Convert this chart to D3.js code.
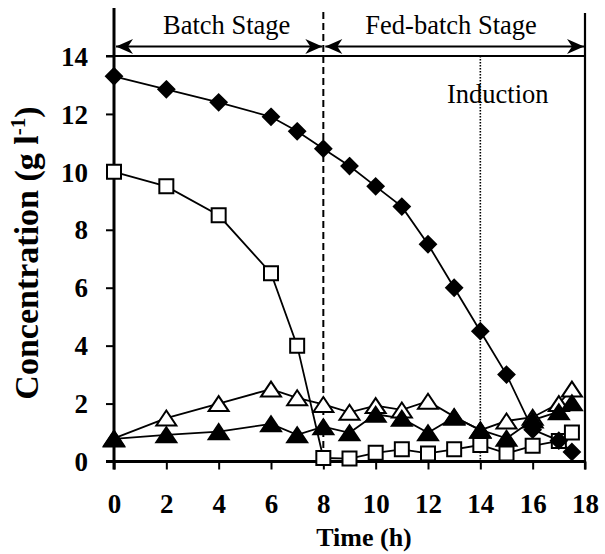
<!DOCTYPE html>
<html><head><meta charset="utf-8">
<script src="https://cdn.jsdelivr.net/npm/d3@7"></script>
<style>html,body{margin:0;padding:0;background:#fff;}svg{display:block;}</style>
</head><body><svg id="c" width="605" height="554"></svg>
<script>
const time = [0,2,4,6,7,8,9,10,11,12,13,14,15,16,17,17.5];
const diamonds = [13.3,12.85,12.4,11.9,11.4,10.8,10.2,9.5,8.8,7.5,6.0,4.5,3.0,1.1,0.72,0.33];
const squares = [10.0,9.5,8.5,6.5,4.0,0.12,0.1,0.3,0.42,0.28,0.42,0.57,0.28,0.54,0.71,1.0];
const openTri = [0.8,1.5,2.0,2.5,2.2,1.97,1.7,1.93,1.78,2.08,1.55,1.08,1.4,1.53,2.0,2.5];
const filledTri = [0.78,0.92,1.03,1.3,0.92,1.2,0.99,1.63,1.49,0.99,1.53,1.09,0.8,1.43,1.72,2.03];
const xTicks = [0,2,4,6,8,10,12,14,16,18];
const yTicks = [0,2,4,6,8,10,12,14];
const stages = [{label:"Batch Stage", from:0, to:8},{label:"Fed-batch Stage", from:8, to:18}];
const batchEnd = 8, induction = 14;

const svg = d3.select("#c");
const x = d3.scaleLinear().domain([0,18]).range([114,585]);
const y = d3.scaleLinear().domain([0,14]).range([461.5,56]);
const serif = "'Liberation Serif','Times New Roman',serif";

// axes
const gx = svg.append("g").attr("transform",`translate(0,${y(0)})`)
  .call(d3.axisBottom(x).tickValues(xTicks).tickSize(8).tickPadding(25).tickSizeOuter(0));
gx.select(".domain").remove();
gx.selectAll(".tick line").attr("stroke","#000").attr("stroke-width",2);
gx.selectAll(".tick text").attr("font-family",serif).attr("font-weight","bold").attr("font-size",27).attr("fill","#000").attr("dy","0.7em");

const gy = svg.append("g").attr("transform",`translate(${x(0)},0)`)
  .call(d3.axisLeft(y).tickValues(yTicks).tickSize(8).tickPadding(18).tickSizeOuter(0));
gy.select(".domain").remove();
gy.selectAll(".tick line").attr("stroke","#000").attr("stroke-width",2);
gy.selectAll(".tick text").attr("font-family",serif).attr("font-weight","bold").attr("font-size",27).attr("fill","#000").attr("dy","0.34em");

// frame lines
svg.append("line").attr("x1",x(0)-8).attr("x2",x(18)).attr("y1",y(14)).attr("y2",y(14)).attr("stroke","#000").attr("stroke-width",2.2);
svg.append("line").attr("x1",x(18)).attr("x2",x(18)).attr("y1",13).attr("y2",y(0)+8).attr("stroke","#000").attr("stroke-width",2.2);
svg.append("line").attr("x1",x(0)).attr("x2",x(0)).attr("y1",8).attr("y2",y(0)+8).attr("stroke","#000").attr("stroke-width",3);
svg.append("line").attr("x1",x(0)-8).attr("x2",x(18)).attr("y1",y(0)).attr("y2",y(0)).attr("stroke","#000").attr("stroke-width",3);

// stage separators
svg.append("line").attr("x1",x(batchEnd)).attr("x2",x(batchEnd)).attr("y1",12).attr("y2",y(0))
  .attr("stroke","#000").attr("stroke-width",2).attr("stroke-dasharray","7,4");
svg.append("line").attr("x1",x(induction)).attr("x2",x(induction)).attr("y1",y(14)).attr("y2",y(0))
  .attr("stroke","#000").attr("stroke-width",1.6).attr("stroke-dasharray","1.5,1.5");

// arrows
const arrowY = 46.5;
function head(tipX, dir){
  const L=17, W=7.5, N=12;
  return `M${tipX},${arrowY} L${tipX-dir*L},${arrowY-W} L${tipX-dir*N},${arrowY} L${tipX-dir*L},${arrowY+W} Z`;
}
stages.forEach(s=>{
  const a = x(s.from)+2, b = x(s.to) - 1;
  svg.append("line").attr("x1",a).attr("x2",b).attr("y1",arrowY).attr("y2",arrowY).attr("stroke","#000").attr("stroke-width",2);
  svg.append("path").attr("d",head(a,-1)).attr("fill","#000");
  svg.append("path").attr("d",head(b,1)).attr("fill","#000");
});
svg.append("text").attr("x",x(0)+49).attr("y",34).attr("font-family",serif).attr("font-size",26.5).text(stages[0].label);
svg.append("text").attr("x",x(8)+42).attr("y",34).attr("font-family",serif).attr("font-size",26.5).text(stages[1].label);
svg.append("text").attr("x",447).attr("y",103).attr("font-family",serif).attr("font-size",26.5).text("Induction");

// axis titles
svg.append("text").attr("x",364).attr("y",546).attr("text-anchor","middle").attr("font-family",serif)
  .attr("font-weight","bold").attr("font-size",26).text("Time (h)");
const yl = svg.append("text").attr("transform","translate(38,253) rotate(-90)").attr("text-anchor","middle")
  .attr("font-family",serif).attr("font-weight","bold").attr("font-size",34);
yl.append("tspan").text("Concentration (g l");
yl.append("tspan").attr("font-size",21).attr("dy",-13).text("-1");
yl.append("tspan").attr("dy",13).text(")");

// symbols
const diamondSym = {draw(ctx,size){const r=Math.sqrt(size)/2; ctx.moveTo(0,-r);ctx.lineTo(r,0);ctx.lineTo(0,r);ctx.lineTo(-r,0);ctx.closePath();}};
const triSym = {draw(ctx,size){const w=Math.sqrt(size); const h=w*0.75; ctx.moveTo(0,-h/2);ctx.lineTo(w/2,h/2);ctx.lineTo(-w/2,h/2);ctx.closePath();}};
const squareSym = {draw(ctx,size){const s=Math.sqrt(size)/2; ctx.rect(-s,-s,2*s,2*s);}};

const series = [
  {vals:squares, sym:squareSym, size:196, fill:"#fff"},
  {vals:diamonds, sym:diamondSym, size:256, fill:"#000"},
  {vals:openTri, sym:triSym, size:400, fill:"#fff"},
  {vals:filledTri, sym:triSym, size:400, fill:"#000"}
];
const line = d3.line().x(d=>x(d[0])).y(d=>y(d[1]));
series.forEach(s=>{
  const pts = time.map((t,i)=>[t,s.vals[i]]);
  svg.append("path").attr("d",line(pts)).attr("fill","none").attr("stroke","#000").attr("stroke-width",1.8);
});
series.forEach(s=>{
  const pts = time.map((t,i)=>[t,s.vals[i]]);
  svg.append("g").selectAll("path").data(pts).join("path")
    .attr("transform",d=>`translate(${x(d[0])},${y(d[1])})`)
    .attr("d",d3.symbol().type(s.sym).size(s.size))
    .attr("fill",s.fill).attr("stroke","#000").attr("stroke-width",2);
});
</script></body></html>
